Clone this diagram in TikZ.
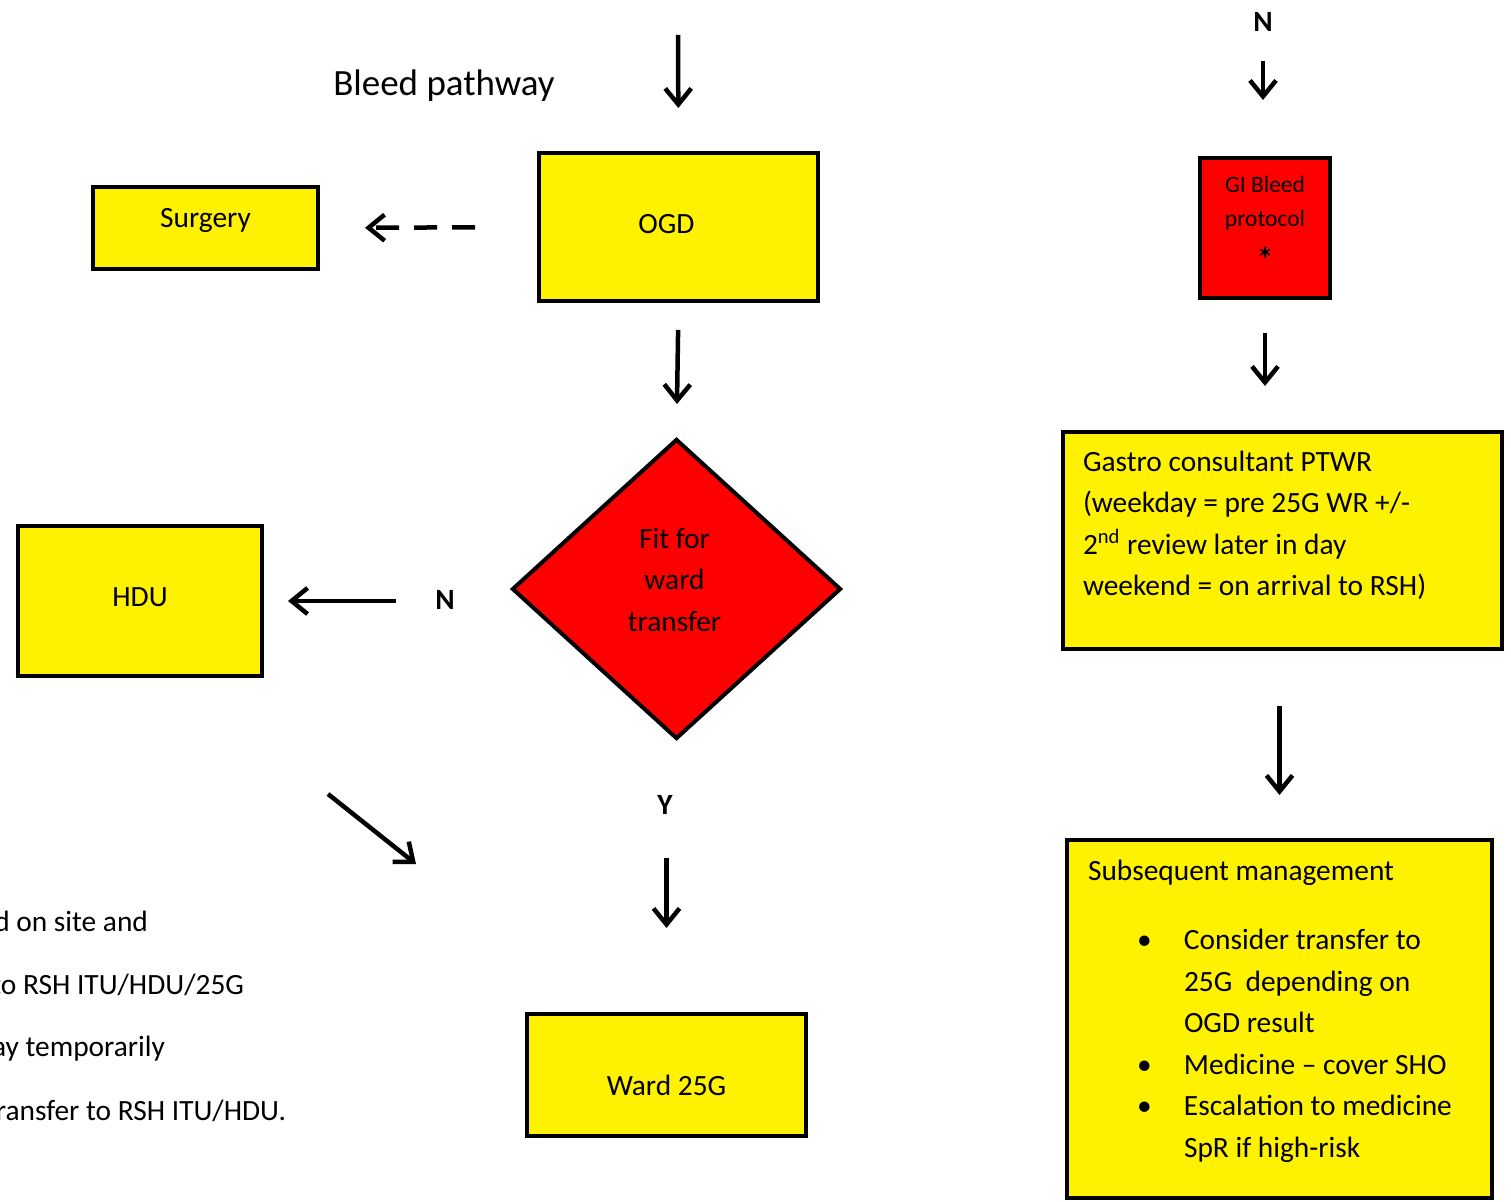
\documentclass[tikz,border=0pt]{standalone}
\usepackage{fontspec}
\setmainfont{Carlito}
\usetikzlibrary{arrows.meta,positioning,shapes.geometric}

\begin{document}
\begin{tikzpicture}[x=0.5pt,y=-0.5pt,line width=2pt,font=\fontsize{14.7}{20.75}\selectfont,
    >={Straight Barb[length=8pt,width=13pt]},
    box/.style={draw,fill=yellow,inner sep=0pt},
    redbox/.style={draw,fill=red,inner sep=0pt},
    dia/.style={draw,fill=red,diamond,inner sep=0pt,minimum width=164.5pt,minimum height=150pt},
    yn/.style={font=\fontsize{14.7}{20.75}\selectfont\bfseries},
    dashline/.style={dash pattern=on 11.5pt off 7.5pt},
    every label/.style={inner sep=0pt}]
    \useasboundingbox (0,0) rectangle (1511,1202);
    \clip (0,0) rectangle (1511,1202);
    \node[font=\fontsize{18.5}{22}\selectfont] (title) at (444,86) {Bleed pathway};
    \node[box,minimum width=112.5pt,minimum height=41pt,label={[yshift=4pt]center:Surgery}] (surgery) at (205.5,228) {};
    \node[box,minimum width=139.5pt,minimum height=74pt,label={[xshift=-6pt,yshift=1.5pt]center:OGD}] (ogd) at (678.5,227) {};
    \node[dia,label={[align=center,xshift=-1pt,yshift=4.75pt]center:Fit for\\ward\\transfer}] (fit) at (676.5,589) {};
    \node[box,minimum width=122pt,minimum height=75pt,label={[yshift=2pt]center:HDU}] (hdu) at (140,601) {};
    \node[box,minimum width=139.5pt,minimum height=61pt,label={[yshift=-5pt]center:Ward 25G}] (ward) at (666.5,1075) {};
    \node[yn] (nl) at (445,600) {N};
    \node[yn] (yl) at (665,805) {Y};
    \coordinate (in1) at (678,35);
    \coordinate (d1) at (328,794);
    \coordinate (d2) at (416,864);
    \node[anchor=base east,inner sep=0pt] (note1) at (150,932) {d on site and};
    \node[anchor=base east,inner sep=0pt] (note2) at (246,994) {to RSH ITU/HDU/25G};
    \node[anchor=base east,inner sep=0pt] (note3) at (167,1057) {ay temporarily};
    \node[anchor=base east,inner sep=0pt] (note4) at (288,1120) {ransfer to RSH ITU/HDU.};

    \node[yn] (nr) at (1263,22) {N};
    \node[redbox,minimum width=65pt,minimum height=70pt,
      label={[align=center,font=\fontsize{11.75}{16.75}\selectfont,yshift=2pt]center:GI Bleed\\protocol\\[6pt]{\fontsize{17}{16.75}\selectfont\textbf{*}}}] (gi) at (1265,228) {};
    \node[box,minimum width=219.5pt,minimum height=108.5pt,
      label={[anchor=north west,align=left,xshift=10pt,yshift=-9.5pt]north west:Gastro consultant PTWR\\(weekday = pre 25G WR +/-\\2\textsuperscript{nd} review later in day\\weekend = on arrival to RSH)}] (gastro) at (1282.5,540.5) {};
    \node[box,minimum width=212.5pt,minimum height=179pt,
      label={[anchor=north west,align=left,xshift=10.5pt,yshift=-10pt]north west:Subsequent management\\[14pt]
        \hspace*{24.5pt}\makebox[23.5pt][l]{\textbullet}Consider transfer to\\
        \hspace*{48pt}25G\ \ depending on\\
        \hspace*{48pt}OGD result\\
        \hspace*{24.5pt}\makebox[23.5pt][l]{\textbullet}Medicine -- cover SHO\\
        \hspace*{24.5pt}\makebox[23.5pt][l]{\textbullet}Escalation to medicine\\
        \hspace*{48pt}SpR if high-risk}] (subseq) at (1279.5,1019) {};

    \path[->,line width=2.25pt]
      (in1) edge[shorten >=21.5pt] (ogd.north)
      (ogd.west) edge[dashline,shorten <=31pt,shorten >=22.5pt] (surgery.east)
      (ogd.south) edge[shorten <=13.5pt,shorten >=16.5pt] (fit.north)
      (fit.west |- hdu.east) edge[shorten <=57pt,shorten >=12pt] (hdu.east)
      (ward.north |- fit.south) edge[shorten <=58.5pt,shorten >=42pt] (ward.north)
      (d1) edge (d2)
      (nr.south) edge[shorten <=10.5pt,shorten >=28pt] (nr.south |- gi.north)
      (gi.south) edge[shorten <=16.5pt,shorten >=22pt] (gi.south |- gastro.north)
      (subseq.north |- gastro.south) edge[shorten <=27.5pt,shorten >=21.5pt] (subseq.north);
\end{tikzpicture}
\end{document}
